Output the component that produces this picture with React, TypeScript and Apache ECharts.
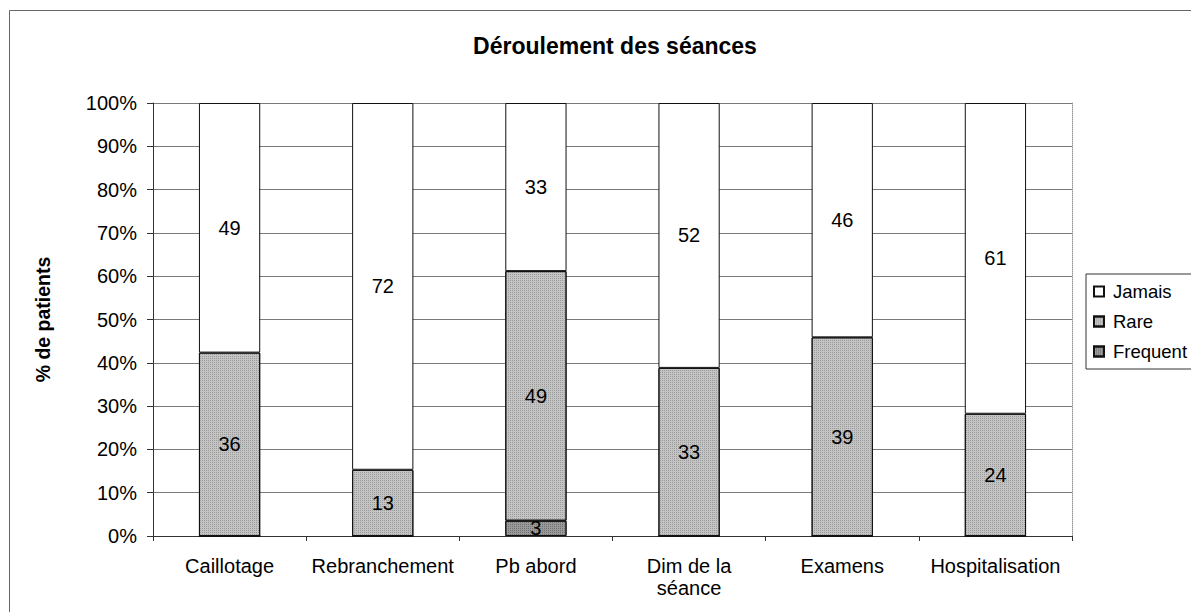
import React, { useEffect, useRef } from "react";
import * as echarts from "echarts";

const categories = ["Caillotage", "Rebranchement", "Pb abord", "Dim de la\nséance", "Examens", "Hospitalisation"];
const frequent = [0, 0, 3, 0, 0, 0];
const rare = [36, 13, 49, 33, 39, 24];
const jamais = [49, 72, 33, 52, 46, 61];
const legendOrder = ["Jamais", "Rare", "Frequent"];

const FONT = "'Liberation Sans', Arial, sans-serif";

export default function App() {
  const ref = useRef<HTMLDivElement>(null);
  useEffect(() => {
    if (!ref.current) return;
    const chart = echarts.init(ref.current, undefined, { renderer: "svg" });
    const totals = categories.map((_, i) => frequent[i] + rare[i] + jamais[i]);
    const pct = (arr: number[]) => arr.map((v, i) => (v / totals[i]) * 100);
    const mkLabel = (arr: number[]) => ({
      show: true,
      position: "inside" as const,
      color: "#000",
      fontSize: 20,
      fontFamily: FONT,
      formatter: (p: any) => (arr[p.dataIndex] ? String(arr[p.dataIndex]) : ""),
    });
    const decal = (c: string) => ({
      symbol: "rect",
      symbolSize: 1,
      dashArrayX: [1, 1],
      dashArrayY: [1, 1],
      color: c,
    });
    const series: any[] = [
      {
        name: "Frequent",
        type: "bar",
        stack: "s",
        barWidth: "40%",
        data: pct(frequent),
        itemStyle: { color: "#9a9a9a", borderColor: "#111", borderWidth: 1, decal: decal("rgba(60,60,60,0.45)") },
        label: mkLabel(frequent),
      },
      {
        name: "Rare",
        type: "bar",
        stack: "s",
        barWidth: "40%",
        data: pct(rare),
        itemStyle: { color: "#c4c4c4", borderColor: "#111", borderWidth: 1, decal: decal("rgba(90,90,90,0.4)") },
        label: mkLabel(rare),
      },
      {
        name: "Jamais",
        type: "bar",
        stack: "s",
        barWidth: "40%",
        data: pct(jamais),
        itemStyle: { color: "#ffffff", borderColor: "#111", borderWidth: 1 },
        label: mkLabel(jamais),
      },
    ];
    chart.setOption({
      animation: false,
      backgroundColor: "#fff",
      textStyle: { fontFamily: FONT },
      title: {
        text: "Déroulement des séances",
        left: 610,
        top: 29,
        textAlign: "center",
        textStyle: { fontSize: 23, fontWeight: "bold", color: "#000", fontFamily: FONT },
      },
      legend: {
        data: legendOrder,
        orient: "vertical",
        left: 1086,
        top: 274,
        itemWidth: 10,
        itemHeight: 10,
        itemGap: 11,
        padding: [8, 30, 8, 7],
        borderColor: "#333",
        borderWidth: 1,
        icon: "rect",
        textStyle: { fontSize: 18.5, color: "#000", fontFamily: FONT, padding: [0, 0, 0, 4] },
      },
      grid: { left: 153, right: 119, top: 103, bottom: 76, containLabel: false },
      xAxis: {
        type: "category",
        data: categories,
        axisLine: { lineStyle: { color: "#333", width: 1 } },
        axisTick: { show: true, length: 5, lineStyle: { color: "#333" } },
        axisLabel: { fontSize: 20, color: "#000", margin: 19, lineHeight: 22, fontFamily: FONT, interval: 0 },
      },
      yAxis: [
        {
          type: "value",
          min: 0,
          max: 100,
          interval: 10,
          name: "% de patients",
          nameLocation: "middle",
          nameGap: 100,
          nameRotate: 90,
          nameTextStyle: { fontSize: 19.5, fontWeight: "bold", color: "#000", fontFamily: FONT },
          axisLine: { show: true, lineStyle: { color: "#333", width: 1 } },
          axisTick: { show: true, length: 6, lineStyle: { color: "#333" } },
          axisLabel: { formatter: "{value}%", fontSize: 20, color: "#000", margin: 16, fontFamily: FONT },
          splitLine: { show: true, lineStyle: { color: "#7a7a7a", width: 1 } },
        },
        {
          type: "value",
          min: 0,
          max: 100,
          interval: 10,
          position: "right",
          axisLine: { show: true, lineStyle: { color: "#999", width: 1, type: "dotted" } },
          axisTick: { show: false },
          axisLabel: { show: false },
          splitLine: { show: false },
        },
      ],
      graphic: [
        {
          type: "rect",
          shape: { x: 9.5, y: 10.5, width: 1300, height: 800 },
          style: { fill: "none", stroke: "#666", lineWidth: 1 },
          silent: true,
          z: -1,
        },
      ],
      series,
    });
    return () => chart.dispose();
  }, []);
  return <div ref={ref} style={{ position: "fixed", left: 0, top: 0, width: 1191, height: 612 }} />;
}
